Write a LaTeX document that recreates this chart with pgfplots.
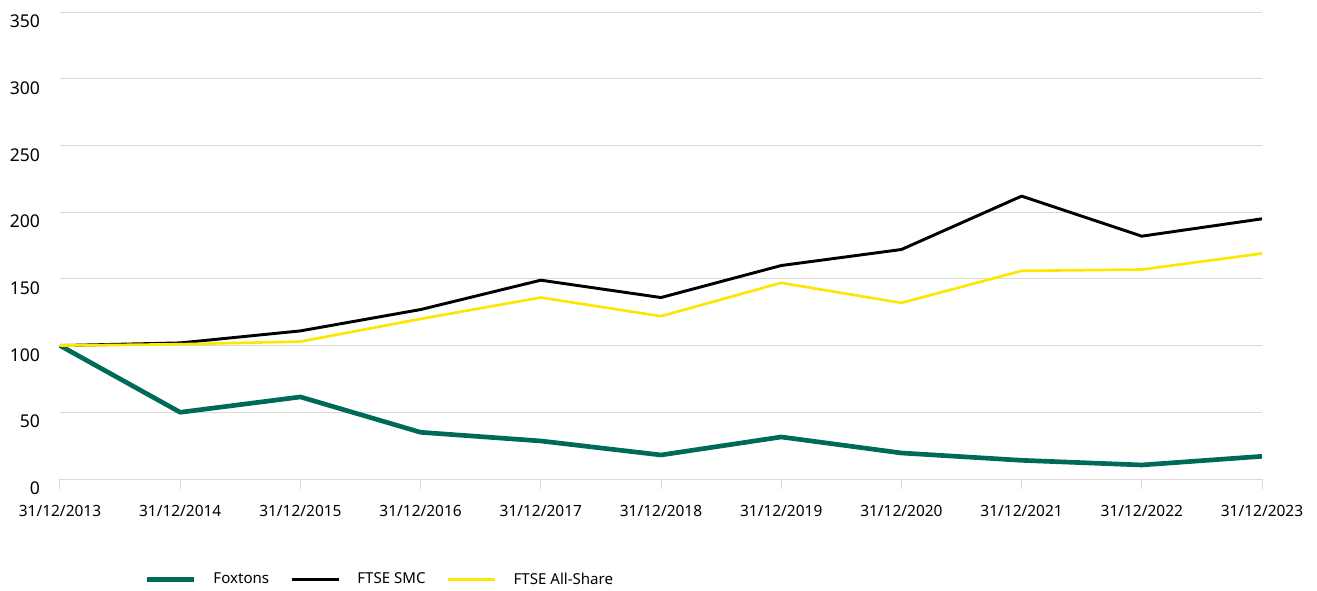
\documentclass[border=0pt]{standalone}
\usepackage{pgfplots}
\pgfplotsset{compat=1.18}
\usepackage{fontspec}
\setmainfont{Noto Sans}
\definecolor{foxgreen}{RGB}{0,106,88}
\definecolor{ftyellow}{RGB}{255,230,0}
\definecolor{gridgray}{RGB}{217,217,217}
\begin{document}
\begin{tikzpicture}[x=1pt,y=1pt]
\begin{axis}[
  scale only axis,
  width=901.5pt, height=350.25pt,
  xmin=0, xmax=10, ymin=0, ymax=350,
  xtick={0,...,10},
  xticklabels={31/12/2013,31/12/2014,31/12/2015,31/12/2016,31/12/2017,31/12/2018,31/12/2019,31/12/2020,31/12/2021,31/12/2022,31/12/2023},
  ytick={0,50,...,350},
  ymajorgrids, major grid style={gridgray, line width=0.75pt},
  axis x line*=bottom, axis y line*=left,
  x axis line style={gridgray, line width=0.75pt, -},
  y axis line style={draw=none},
  xtick style={gridgray, line width=0.75pt},
  major tick length=7.5pt,
  tick align=outside,
  ytick style={draw=none},
  xticklabel style={font=\fontsize{11.6}{14}\selectfont, yshift=-9pt},
  yticklabel style={font=\fontsize{13.2}{15}\selectfont, xshift=-4pt, yshift=-7pt},
  /pgf/number format/assume math mode=true,
  clip=false,
  legend columns=-1,
  legend style={at={(rel axis cs:0.067,-0.215)}, anchor=west, draw=none, fill=none,
    font=\fontsize{11.3}{14}\selectfont, column sep=0pt,
    /tikz/every even column/.append style={column sep=14pt}},
  legend image code/.code={\draw[#1] (0pt,0pt) -- (35pt,0pt);},
]
\addplot[foxgreen, line width=3.5pt, line join=round] coordinates {
(0,100) (1,50) (2,61.5) (3,35) (4,28.5) (5,18) (6,31.5) (7,19.5) (8,14) (9,10.5) (10,17)};
\addlegendentry{\hspace{11pt}Foxtons}
\addplot[black, line width=2.2pt, line join=round] coordinates {
(0,100) (1,102) (2,111) (3,127) (4,149) (5,136) (6,160) (7,172) (8,212) (9,182) (10,195)};
\addlegendentry{\hspace{11pt}FTSE SMC}
\addplot[ftyellow, line width=2pt, line join=round] coordinates {
(0,100) (1,101) (2,103) (3,120) (4,136) (5,122) (6,147) (7,132) (8,156) (9,157) (10,169)};
\addlegendentry{\hspace{11pt}FTSE All-Share}
\end{axis}
\pgfresetboundingbox
\path (-45pt,-83.25pt) rectangle (942.75pt,359.25pt);
\end{tikzpicture}
\end{document}
